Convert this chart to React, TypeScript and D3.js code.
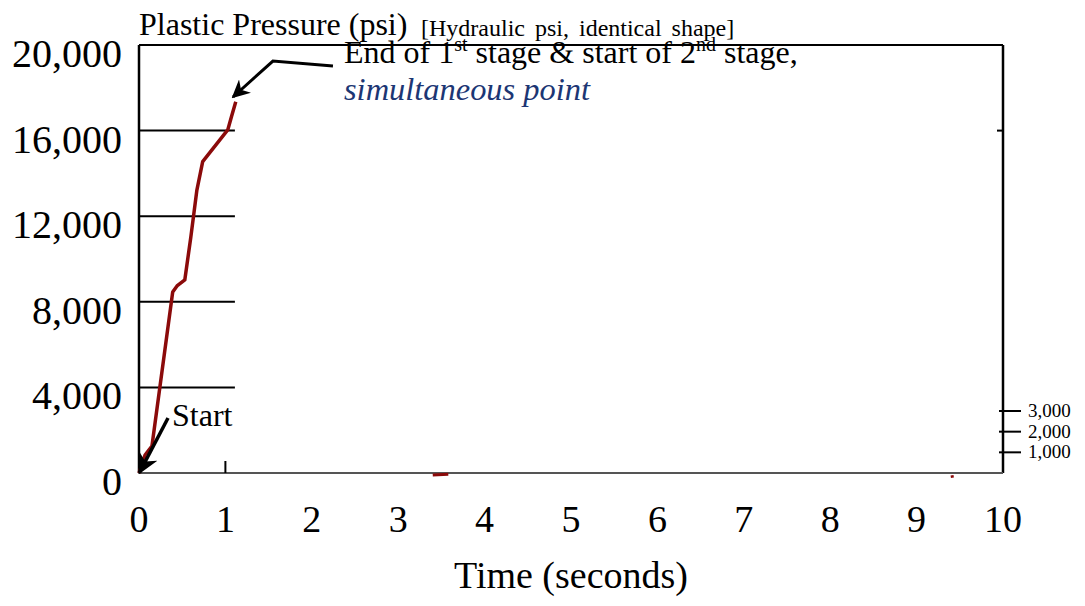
import * as d3 from 'd3';

// Plastic pressure trace (seconds, psi)
const timeS = [0, 0.07, 0.15, 0.39, 0.44, 0.53, 0.6, 0.67, 0.737, 1.027, 1.07, 1.12];
const pressurePsi = [0, 840, 1260, 8460, 8740, 9020, 11030, 13220, 14550, 16030, 16650, 17350];

// tiny stray marks sitting on the time axis
const strayA_t = [3.4, 3.58];
const strayA_p = [-90, -60];
const strayB_t = [9.41, 9.415];
const strayB_p = [-100, -220];

const xTicks = [0, 1, 2, 3, 4, 5, 6, 7, 8, 9, 10];
const yTicks = [0, 4000, 8000, 12000, 16000, 20000];
const yRightTicks = [1000, 2000, 3000];
const gridEndTime = 1.11;

const W = 1085;
const H = 606;
const plot = { left: 139, right: 1003, top: 45, bottom: 473 };
const serif = '"Liberation Serif", "Times New Roman", serif';
const red = '#8b0a0a';
const navy = '#1c3674';

export default function App() {
  const x = d3.scaleLinear().domain([0, 10]).range([plot.left, plot.right]);
  const y = d3.scaleLinear().domain([0, 20000]).range([plot.bottom, plot.top]);
  const yR = d3.scaleLinear().domain([0, 3000]).range([plot.bottom, 411]);

  const line = d3.line<[number, number]>().x((d) => x(d[0])).y((d) => y(d[1]));
  const main = line(timeS.map((t, i) => [t, pressurePsi[i]]));
  const strayA = line(strayA_t.map((t, i) => [t, strayA_p[i]]));
  const strayB = line(strayB_t.map((t, i) => [t, strayB_p[i]]));

  const fmt = d3.format(',');

  // annotation arrows in data space
  const startArrow: [number, number][] = [[0.336, 2570], [0.005, 20]];
  const endArrow: [number, number][] = [[2.245, 19020], [1.55, 19250], [1.088, 17570]];

  return (
    <svg width={W} height={H} style={{ position: 'absolute', left: 0, top: 0, background: '#fff' }}>
      <defs>
        <marker id="ah" viewBox="0 0 10 10" refX="9" refY="5" markerWidth="6" markerHeight="6" orient="auto-start-reverse" markerUnits="strokeWidth">
          <path d="M0,0 L10,5 L0,10 L3,5 z" fill="#000" />
        </marker>
      </defs>

      {/* short gridlines */}
      {yTicks.filter((t) => t > 0 && t < 20000).map((t) => (
        <line key={t} x1={x(0)} x2={x(gridEndTime)} y1={y(t)} y2={y(t)} stroke="#000" strokeWidth={2} />
      ))}

      {/* frame */}
      <line x1={plot.left} x2={plot.right} y1={plot.top} y2={plot.top} stroke="#000" strokeWidth={2} />
      <line x1={plot.right} x2={plot.right} y1={plot.top} y2={plot.bottom} stroke="#000" strokeWidth={2.5} />
      <line x1={plot.left} x2={plot.right} y1={plot.bottom} y2={plot.bottom} stroke="#555" strokeWidth={2} />
      <line x1={plot.left} x2={plot.left} y1={plot.top} y2={plot.bottom} stroke="#000" strokeWidth={2.5} />

      {/* x tick at 1 s */}
      <line x1={x(1)} x2={x(1)} y1={plot.bottom - 12} y2={plot.bottom} stroke="#000" strokeWidth={2} />
      {/* right inner tick */}
      <line x1={plot.right - 6} x2={plot.right} y1={y(16000)} y2={y(16000)} stroke="#000" strokeWidth={2} />

      {/* right secondary ticks */}
      {yRightTicks.map((t) => (
        <g key={t}>
          <line x1={plot.right - 4} x2={plot.right + 18} y1={yR(t)} y2={yR(t)} stroke="#000" strokeWidth={2} />
          <text x={1028} y={yR(t) + 6} fontFamily={serif} fontSize={19}>{fmt(t)}</text>
        </g>
      ))}

      {/* y tick labels */}
      {yTicks.map((t) => (
        <text key={t} x={122} y={y(t) + 22} textAnchor="end" fontFamily={serif} fontSize={40}>{fmt(t)}</text>
      ))}

      {/* x tick labels */}
      {xTicks.map((t) => (
        <text key={t} x={x(t)} y={532} textAnchor="middle" fontFamily={serif} fontSize={38}>{t}</text>
      ))}

      <text x={571} y={588} textAnchor="middle" fontFamily={serif} fontSize={38}>Time (seconds)</text>

      {/* title */}
      <text x={139} y={35} fontFamily={serif} fontSize={32}>Plastic Pressure (psi)</text>
      <text x={421} y={36} fontFamily={serif} fontSize={24} wordSpacing={4}>[Hydraulic psi, identical shape]</text>

      {/* data */}
      <path d={main ?? ''} fill="none" stroke={red} strokeWidth={3.5} strokeLinejoin="round" />
      <path d={strayA ?? ''} fill="none" stroke={red} strokeWidth={3} />
      <path d={strayB ?? ''} fill="none" stroke={red} strokeWidth={3} />

      {/* annotations */}
      <path d={line(endArrow) ?? ''} fill="none" stroke="#000" strokeWidth={3} markerEnd="url(#ah)" />
      <path d={line(startArrow) ?? ''} fill="none" stroke="#000" strokeWidth={3.5} markerEnd="url(#ah)" />

      <text x={344} y={63} fontFamily={serif} fontSize={32}>
        End of 1<tspan dy={-12} fontSize={20}>st</tspan>
        <tspan dy={12}> stage &amp; start of 2</tspan>
        <tspan dy={-12} fontSize={20}>nd</tspan>
        <tspan dy={12}> stage,</tspan>
      </text>
      <text x={344} y={100} fontFamily={serif} fontSize={32} fontStyle="italic" fill={navy} textLength={246} lengthAdjust="spacingAndGlyphs">simultaneous point</text>

      <text x={172} y={426} fontFamily={serif} fontSize={32}>Start</text>
    </svg>
  );
}
